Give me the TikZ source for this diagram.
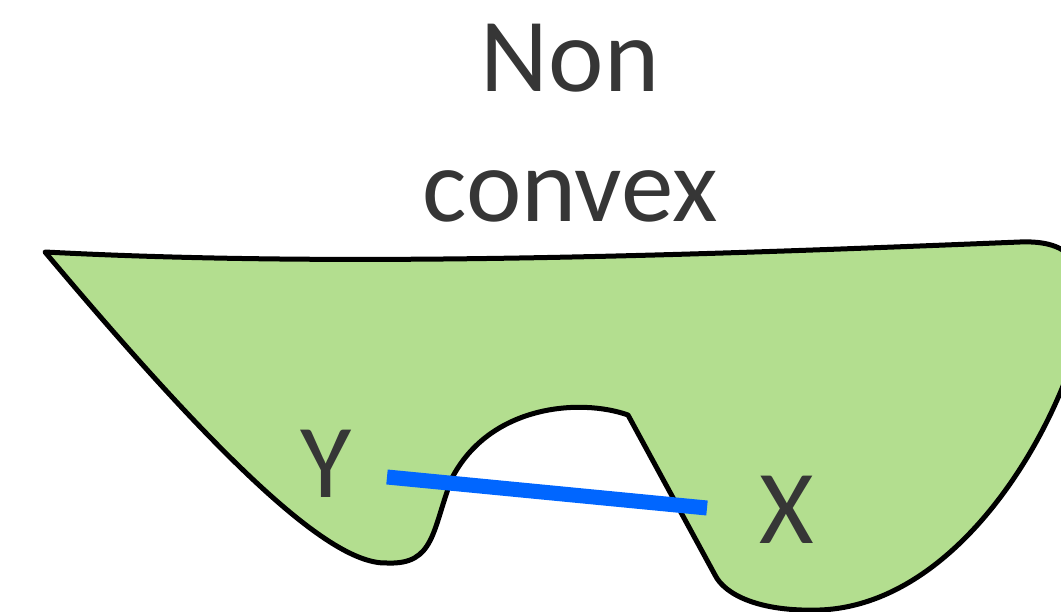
\documentclass[tikz,border=0pt]{standalone}
\usepackage{fontspec}
\setmainfont{Carlito}
\definecolor{regiongreen}{HTML}{B3DE8F}
\definecolor{segblue}{HTML}{0066FF}
\definecolor{labelgray}{HTML}{363636}
\begin{document}
\begin{tikzpicture}[
    x=1pt, y=-1pt,
    every node/.style={
        text=labelgray,
        font=\fontsize{105}{130}\selectfont,
        inner sep=0pt
    },
    region/.style={fill=regiongreen, draw=black, line width=5pt, line join=round},
    segment/.style={draw=segblue, line width=15pt}
]
\useasboundingbox (0,0) rectangle (1061,612);
\clip (0,0) rectangle (1061,612);
% the non convex set
\path[region] (45,252) .. controls (350,268) and (700,255) .. (1020,242)
    .. controls (1070,240) and (1092,262) .. (1082,330)
    .. controls (1050,450) and (950,605) .. (820,610)
    .. controls (760,612) and (725,595) .. (715,575)
    -- (628,415)
    .. controls (580,398) and (490,405) .. (452,478)
    .. controls (432,530) and (435,565) .. (387,563)
    .. controls (330,565) and (220,460) .. (45,252) -- cycle;
\node[anchor=base, align=center] (title) at (570,222) {Non\\convex};
\node[anchor=base] (ptY) at (326,497) {Y};
\node[anchor=base] (ptX) at (787,543) {X};
\coordinate (yend) at (387,477);
\coordinate (xend) at (707,508);
\draw[segment] (yend) -- (xend);
\end{tikzpicture}
\end{document}
